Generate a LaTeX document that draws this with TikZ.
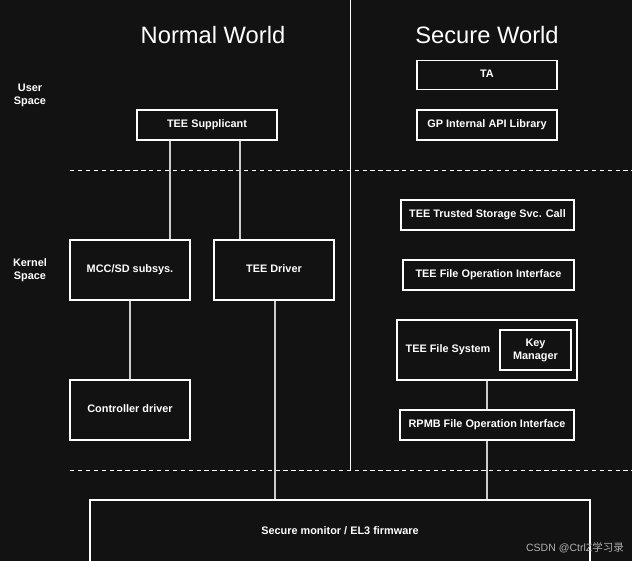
\documentclass[tikz,border=0pt]{standalone}
\usepackage{fontspec}
\setmainfont{Liberation Sans}
\newfontfamily\cjk{Noto Sans CJK SC}
\definecolor{bgdark}{HTML}{121212}
\begin{document}
\begin{tikzpicture}[x=0.02cm,y=-0.02cm,
    box/.style={draw=white, line width=0.7pt, text=white, font=\fontsize{6.2}{7.4}\selectfont\bfseries, align=center, inner sep=0pt},
    link/.style={draw=white!80!black, line width=0.7pt},
    sep/.style={draw=white, line width=0.5pt, dash pattern=on 2.5pt off 2pt}]

    % fondo
    \fill[bgdark] (0,0) rectangle (632,561);
    \useasboundingbox (0,0) rectangle (632,561);

    % titulos
    \node[text=white, font=\fontsize{13.5}{15}\selectfont] (nw) at (213,35) {Normal World};
    \node[text=white, font=\fontsize{13.5}{15}\selectfont] (sw) at (487,35) {Secure World};
    \node[text=white, font=\fontsize{6.2}{7.4}\selectfont\bfseries, align=center] (us) at (30,95) {User\\Space};
    \node[text=white, font=\fontsize{6.2}{7.4}\selectfont\bfseries, align=center] (ks) at (30,270) {Kernel\\Space};

    % separadores
    \draw[white, line width=0.5pt] (350,0) -- (350,470);
    \draw[sep] (70,170) -- (632,170);
    \draw[sep] (70,470) -- (632,470);

    % mundo normal
    \node[box, minimum width=140*0.02cm, minimum height=30*0.02cm] (sup) at (207,125) {TEE Supplicant\strut};
    \node[box, minimum width=120*0.02cm, minimum height=60*0.02cm] (mcc) at (130,270) {MCC/SD subsys.\strut};
    \node[box, minimum width=120*0.02cm, minimum height=60*0.02cm] (drv) at (274,270) {TEE Driver\strut};
    \node[box, minimum width=120*0.02cm, minimum height=60*0.02cm] (ctl) at (130,410) {Controller driver\strut};

    % mundo seguro
    \node[box, minimum width=140*0.02cm, minimum height=29*0.02cm] (ta) at (487,75) {TA\strut};
    \node[box, minimum width=140*0.02cm, minimum height=30*0.02cm] (gp) at (487,125) {GP Internal API Library\strut};
    \node[box, minimum width=173*0.02cm, minimum height=30*0.02cm] (tss) at (487.5,215) {TEE Trusted Storage Svc. Call\strut};
    \node[box, minimum width=171*0.02cm, minimum height=30*0.02cm] (tfo) at (488.5,275) {TEE File Operation Interface\strut};
    \node[box, minimum width=180*0.02cm, minimum height=60*0.02cm] (tfs) at (487,350) {};
    \node[text=white, font=\fontsize{6.2}{7.4}\selectfont\bfseries] (tfsl) at (448,350) {TEE File System\strut};
    \node[box, minimum width=71*0.02cm, minimum height=40*0.02cm] (km) at (535.5,350) {Key\\Manager};
    \node[box, minimum width=174*0.02cm, minimum height=30*0.02cm] (rpmb) at (487,425) {RPMB File Operation Interface\strut};

    % monitor
    \node[box, minimum width=500*0.02cm, minimum height=64*0.02cm] (mon) at (340,532) {Secure monitor / EL3 firmware\strut};

    % conexiones
    \coordinate (c1) at (170,0);
    \coordinate (c2) at (240,0);
    \coordinate (c3) at (275,0);
    \coordinate (c4) at (487,0);
    \draw[link] (sup.south -| c1) -- (mcc.north -| c1);
    \draw[link] (sup.south -| c2) -- (drv.north -| c2);
    \draw[link] (mcc.south) -- (ctl.north);
    \draw[link] (drv.south -| c3) -- (mon.north -| c3);
    \draw[link] (tfs.south -| c4) -- (rpmb.north -| c4);
    \draw[link] (rpmb.south -| c4) -- (mon.north -| c4);

    % marca
    \node[text=white!70!black, font=\fontsize{6}{7}\selectfont] (wm) at (575,548) {CSDN @CtrlZ{\cjk 学习录}};

\end{tikzpicture}
\end{document}
